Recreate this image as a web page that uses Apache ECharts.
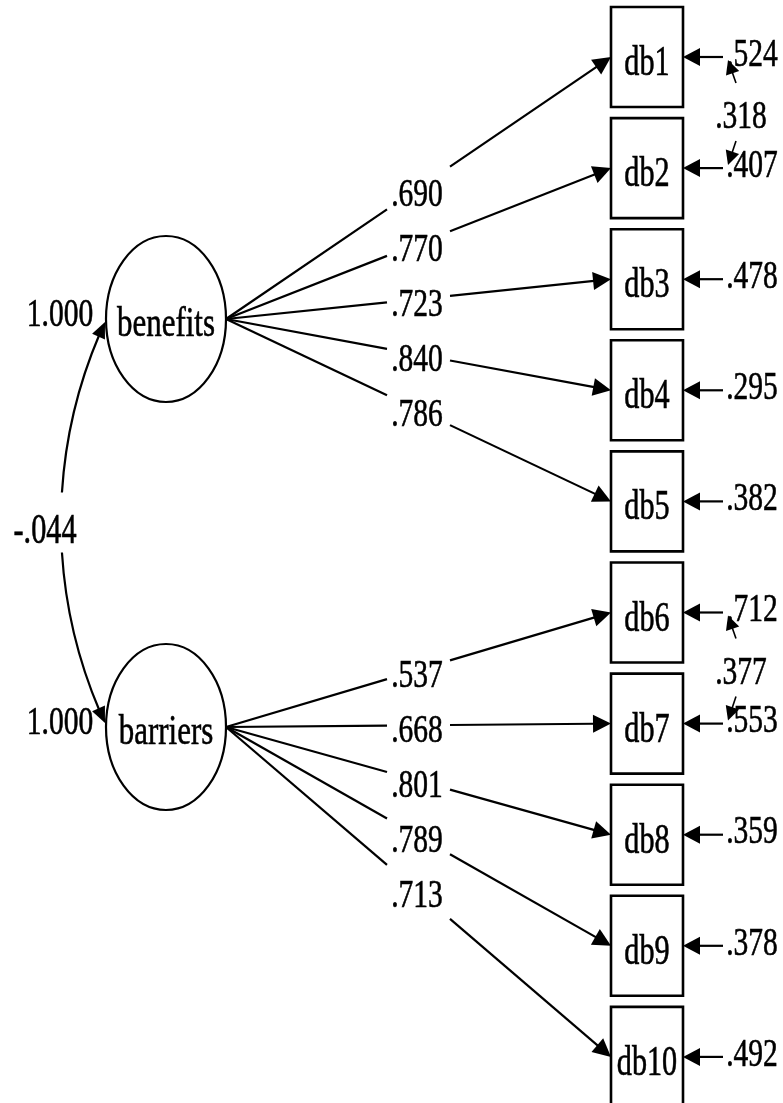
<!DOCTYPE html>
<html>
<head>
<meta charset="utf-8">
<script src="https://cdn.jsdelivr.net/npm/echarts@6/dist/echarts.min.js"></script>
<style>
html,body{margin:0;padding:0;background:#fff;}
#chart{width:783px;height:1103px;}
</style>
</head>
<body>
<div id="chart"></div>
<script>
// ---- data ----
const indicators = ['db1','db2','db3','db4','db5','db6','db7','db8','db9','db10'];
const factors = ['benefits','barriers'];
const factorOf = [0,0,0,0,0,1,1,1,1,1];
const loadings = [0.690,0.770,0.723,0.840,0.786,0.537,0.668,0.801,0.789,0.713];
const errorVariances = [0.524,0.407,0.478,0.295,0.382,0.712,0.553,0.359,0.378,0.492];
const factorVariances = [1.000,1.000];
const factorCovariance = -0.044;
const errorCovPairs = [[0,1],[5,6]];
const errorCovValues = [0.318,0.377];

// ---- layout (positions / styles) ----
const L = {
  boxLeft: 611, boxRight: 683, boxHalfH: 50, y0: 57, pitch: 111.1,
  fx: 166, fy: [319, 727], rx: 60, ry: 83,
  labelX: 417, gapL: 387, gapR: 450,
  errStartX: 723, errLabelX: 752,
  arcBulgeX: 61, arcGap: 30,
  font: 'Liberation Serif', sx: 0.72,
  lw: 2.2, boxLw: 2.6
};

function fmt(v){ return (v<0?'-':'') + Math.abs(v).toFixed(3).replace(/^0/,''); }
function yOf(i){ return L.y0 + L.pitch*i; }

function arrowHead(api, tip, from, len, hw){
  const a = api.coord(tip), b = api.coord(from);
  let dx = a[0]-b[0], dy = a[1]-b[1];
  const d = Math.hypot(dx,dy); dx/=d; dy/=d;
  const bx = a[0]-dx*len, by = a[1]-dy*len;
  return {type:'polygon', shape:{points:[[a[0],a[1]],[bx-dy*hw,by+dx*hw],[bx+dy*hw,by-dx*hw]]}, style:{fill:'#000'}};
}
function baseOf(tip, from, len){
  let dx = tip[0]-from[0], dy = tip[1]-from[1];
  const d = Math.hypot(dx,dy);
  return [tip[0]-dx/d*len, tip[1]-dy/d*len];
}
function seg(api, p, q, lw){
  const a = api.coord(p), b = api.coord(q);
  return {type:'line', shape:{x1:a[0],y1:a[1],x2:b[0],y2:b[1]}, style:{stroke:'#000', lineWidth: lw||L.lw}};
}
function txt(api, x, y, s, size){
  const c = api.coord([x,y]);
  return {type:'text', x:c[0], y:c[1], scaleX:L.sx, style:{text:s, fontFamily:L.font, fontSize:size||41, fill:'#000', stroke:'#000', lineWidth:0.6, align:'center', verticalAlign:'middle'}};
}

const option = {
  animation:false,
  backgroundColor:'#fff',
  grid:{left:0,right:0,top:0,bottom:0},
  xAxis:{type:'value', min:0, max:783, show:false},
  yAxis:{type:'value', min:0, max:1103, inverse:true, show:false},
  series:[
    // loadings (paths from factors to indicators)
    {type:'custom', z:2, data: indicators.map((n,i)=>[i,0]),
     renderItem:(params, api)=>{
       const i = api.value(0), f = factorOf[i];
       const O = [L.fx+L.rx, L.fy[f]], T = [L.boxLeft, yOf(i)];
       const yAt = x => O[1] + (T[1]-O[1])*(x-O[0])/(T[0]-O[0]);
       const base = baseOf(T, O, 17);
       return {type:'group', children:[
         seg(api, O, [L.gapL, yAt(L.gapL)]),
         seg(api, [L.gapR, yAt(L.gapR)], base),
         arrowHead(api, T, O, 18, 9),
         txt(api, L.labelX, yAt(L.labelX)+6, fmt(loadings[i]), 41)
       ]};
     }},
    // indicators with error terms
    {type:'custom', z:3, data: indicators.map((n,i)=>[i,0]),
     renderItem:(params, api)=>{
       const i = api.value(0), yc = yOf(i);
       const a = api.coord([L.boxLeft, yc-L.boxHalfH]), b = api.coord([L.boxRight, yc+L.boxHalfH]);
       const tip = [L.boxRight, yc], from = [L.errStartX, yc];
       return {type:'group', children:[
         {type:'rect', shape:{x:a[0], y:a[1], width:b[0]-a[0], height:b[1]-a[1]}, style:{fill:'#fff', stroke:'#000', lineWidth:L.boxLw}},
         txt(api, (L.boxLeft+L.boxRight)/2, yc+7, indicators[i], 42),
         seg(api, from, baseOf(tip, from, 15)),
         arrowHead(api, tip, from, 17, 9),
         txt(api, L.errLabelX, yc-2, fmt(errorVariances[i]), 41)
       ]};
     }},
    // error covariances
    {type:'custom', z:4, data: errorCovPairs.map((p,k)=>[k,0]),
     renderItem:(params, api)=>{
       const k = api.value(0), ya = yOf(errorCovPairs[k][0]), yb = yOf(errorCovPairs[k][1]);
       const t1 = [728, ya+3], f1 = [736, ya+26];
       const t2 = [728, yb-3], f2 = [736, yb-27];
       return {type:'group', children:[
         seg(api, f1, baseOf(t1, f1, 10), 1.6), arrowHead(api, t1, f1, 14, 7),
         seg(api, f2, baseOf(t2, f2, 10), 1.6), arrowHead(api, t2, f2, 14, 7),
         txt(api, 741, (ya+yb)/2+5, fmt(errorCovValues[k]), 41)
       ]};
     }},
    // factor covariance arc
    {type:'custom', z:2, data:[[0,0]],
     renderItem:(params, api)=>{
       const y1 = L.fy[0]+3, y2 = L.fy[1]-4, xe = L.fx-L.rx-1;
       const h = (y2-y1)/2, s = xe - L.arcBulgeX, R = (h*h+s*s)/(2*s);
       const cx = L.arcBulgeX + R, cy = (y1+y2)/2;
       const aTop = Math.PI + Math.asin(h/R), aBot = Math.PI - Math.asin(h/R);
       const aG = Math.asin(L.arcGap/R), dA = 14/R;
       const pt = a => [cx + R*Math.cos(a), cy + R*Math.sin(a)];
       const c = api.coord([cx,cy]);
       const children = [
         {type:'arc', shape:{cx:c[0], cy:c[1], r:R, startAngle:Math.PI+aG, endAngle:aTop-dA, clockwise:true}, style:{stroke:'#000', lineWidth:L.lw, fill:null}},
         {type:'arc', shape:{cx:c[0], cy:c[1], r:R, startAngle:aBot+dA, endAngle:Math.PI-aG, clockwise:true}, style:{stroke:'#000', lineWidth:L.lw, fill:null}},
         arrowHead(api, pt(aTop), pt(aTop-dA), 16, 7),
         arrowHead(api, pt(aBot), pt(aBot+dA), 16, 7),
         txt(api, 45, cy+9, fmt(factorCovariance), 42)
       ];
       return {type:'group', children};
     }},
    // factors
    {type:'custom', z:5, data: factors.map((n,i)=>[i,0]),
     renderItem:(params, api)=>{
       const f = api.value(0), c = api.coord([L.fx, L.fy[f]]);
       return {type:'group', children:[
         {type:'ellipse', shape:{cx:c[0], cy:c[1], rx:L.rx, ry:L.ry}, style:{fill:'#fff', stroke:'#000', lineWidth:L.lw}},
         txt(api, L.fx, L.fy[f]+6, factors[f], 43),
         txt(api, 60, L.fy[f]-4, fmt(factorVariances[f]), 41)
       ]};
     }}
  ]
};
const chart = echarts.init(document.getElementById('chart'));
chart.setOption(option);
</script>
</body>
</html>
